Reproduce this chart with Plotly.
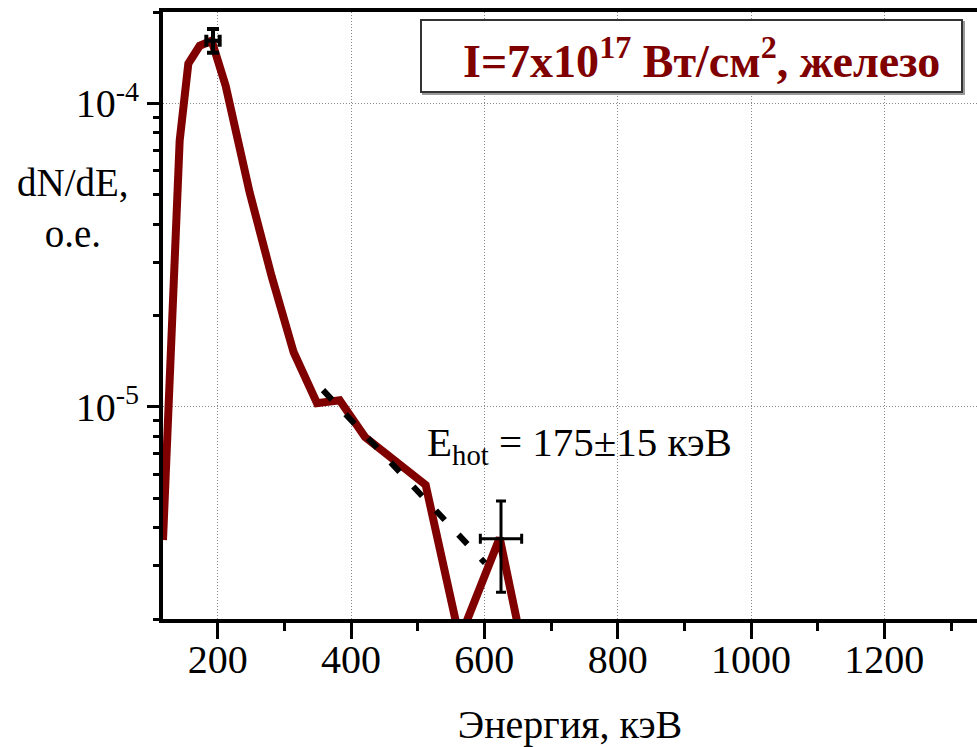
import plotly.graph_objects as go

# ---- data ----
energy_kev = [118, 143, 156, 173, 191, 212, 248, 281, 314, 349, 383, 421, 512, 563, 623, 683]
dnde = [3.64e-6, 7.54e-5, 1.351e-4, 1.548e-4, 1.608e-4, 1.143e-4, 5.08e-5, 2.69e-5,
        1.513e-5, 1.028e-5, 1.052e-5, 7.95e-6, 5.53e-6, 1.72e-6, 3.70e-6, 8.63e-7]

fit_energy = [358, 601]
fit_dnde = [1.135e-5, 3.06e-6]

err_pts_x = [193, 625]
err_pts_y = [1.608e-4, 3.68e-6]
err_x = [10, 31]
err_y_plus = [1.5e-5, 1.22e-6]
err_y_minus = [1.4e-5, 1.23e-6]

x_tickvals = [200, 400, 600, 800, 1000, 1200]
y_tickvals = [1e-5, 1e-4]
y_ticktext = ["10<sup>-5</sup>", "10<sup>-4</sup>"]
y_minor = [m * 10.0 ** e for e in (-6, -5, -4) for m in range(2, 10) if 2e-6 <= m * 10.0 ** e <= 2e-4]

FONT = "Liberation Serif, Times New Roman, serif"
RED = "#800000"

fig = go.Figure()

fig.add_trace(go.Scatter(x=energy_kev, y=dnde, mode="lines",
                         line=dict(color=RED, width=8), showlegend=False))
fig.add_trace(go.Scatter(x=fit_energy, y=fit_dnde, mode="lines",
                         line=dict(color="black", width=6, dash="13px,20px"), showlegend=False))
# error bars
fig.add_trace(go.Scatter(x=[err_pts_x[0]], y=[err_pts_y[0]], mode="markers",
                         marker=dict(size=1, color="black", opacity=0),
                         error_x=dict(type="data", array=[err_x[0]], color="black", thickness=4, width=6),
                         error_y=dict(type="data", array=[err_y_plus[0]], arrayminus=[err_y_minus[0]],
                                      color="black", thickness=4, width=6),
                         showlegend=False))
fig.add_trace(go.Scatter(x=[err_pts_x[1]], y=[err_pts_y[1]], mode="markers",
                         marker=dict(size=1, color="black", opacity=0),
                         error_x=dict(type="data", array=[err_x[1]], color="black", thickness=3, width=5),
                         error_y=dict(type="data", array=[err_y_plus[1]], arrayminus=[err_y_minus[1]],
                                      color="black", thickness=3, width=5),
                         showlegend=False))

fig.update_layout(
    width=977, height=747,
    margin=dict(l=163, r=0, t=12, b=128),
    paper_bgcolor="white", plot_bgcolor="white",
    font=dict(family=FONT, size=40, color="black"),
    xaxis=dict(
        range=[118, 1339],
        tickvals=x_tickvals,
        ticks="outside", ticklen=16, tickwidth=3, tickcolor="black",
        ticklabelstandoff=-14,
        showline=True, linecolor="black", linewidth=4, mirror=True,
        showgrid=True, gridcolor="#888888", gridwidth=1, griddash="1px,2px",
        zeroline=False,
        tickfont=dict(family=FONT, size=40, color="black"),
        minor=dict(dtick=100, tick0=0, ticks="outside", ticklen=8, tickwidth=3,
                   tickcolor="black", showgrid=False),
        title=dict(text="Энергия, кэВ", font=dict(family=FONT, size=40, color="black"), standoff=36),
    ),
    yaxis=dict(
        type="log",
        range=[-5.69897, -3.69897],
        tickmode="array", tickvals=y_tickvals, ticktext=y_ticktext,
        ticks="outside", ticklen=12, tickwidth=3, tickcolor="black",
        showline=True, linecolor="black", linewidth=4, mirror=False,
        showgrid=True, gridcolor="#888888", gridwidth=1, griddash="1px,2px",
        zeroline=False,
        tickfont=dict(family=FONT, size=40, color="black"),
        minor=dict(tickmode="array", tickvals=y_minor, ticks="outside", ticklen=6,
                   tickwidth=3, tickcolor="black", showgrid=False),
    ),
)

# y-axis title (horizontal, left)
fig.add_annotation(text="dN/dE,<br>o.e.", xref="paper", yref="paper",
                   x=-0.11, y=0.677, xanchor="center", yanchor="middle", showarrow=False,
                   align="center", font=dict(family=FONT, size=39, color="black"))

# E_hot label
fig.add_annotation(text="E<sub>hot</sub> = 175±15 кэВ", xref="x", yref="paper",
                   x=511, y=(619 - 445) / 607, xanchor="left", yanchor="middle", showarrow=False,
                   font=dict(family=FONT, size=41, color="black"))

# header box
fig.add_shape(type="rect", xref="paper", yref="paper",
              x0=(423 - 163) / 814, x1=(964 - 163) / 814, y0=(619 - 94) / 607, y1=(619 - 22) / 607,
              line=dict(color="#999999", width=2), fillcolor="rgba(0,0,0,0)")
fig.add_shape(type="rect", xref="paper", yref="paper",
              x0=(421 - 163) / 814, x1=(962 - 163) / 814, y0=(619 - 92) / 607, y1=(619 - 20) / 607,
              line=dict(color="#333333", width=2), fillcolor="white")
fig.add_annotation(text="<b>I=7x10<sup>17</sup> Вт/см<sup>2</sup>, железо</b>", xref="paper", yref="paper",
                   x=(701 - 163) / 814, y=(619 - 58) / 607, xanchor="center", yanchor="middle",
                   showarrow=False, font=dict(family=FONT, size=46, color=RED))

fig.write_html("out.html")
